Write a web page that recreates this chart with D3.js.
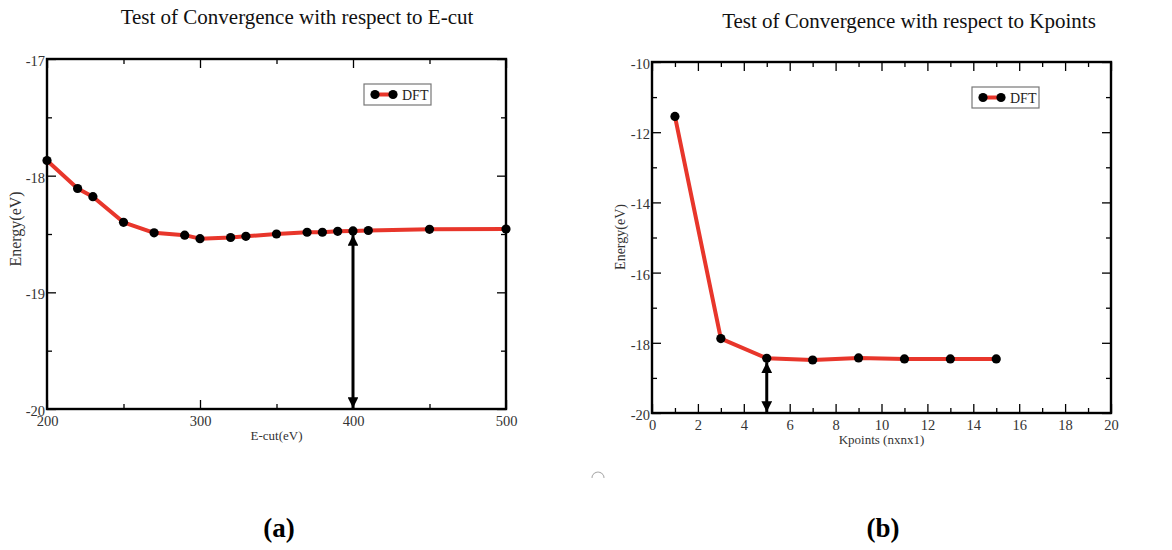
<!DOCTYPE html>
<html>
<head>
<meta charset="utf-8">
<script src="https://cdn.jsdelivr.net/npm/d3@7"></script>
<style>
  body { margin: 0; background: #fff; }
  svg { display: block; font-family: "Liberation Serif", "DejaVu Serif", serif; }
</style>
</head>
<body>
<div id="chart"></div>
<script>
// panel (a): energy vs cut-off energy
var ecutX = [200, 220, 230, 250, 270, 290, 300, 320, 330, 350, 370, 380, 390, 400, 410, 450, 500];
var ecutE = [-17.87, -18.11, -18.18, -18.40, -18.49, -18.51, -18.54, -18.53, -18.52, -18.50,
             -18.485, -18.485, -18.477, -18.474, -18.47, -18.46, -18.457];
var ecutMajorX = [200, 300, 400, 500];
var ecutMinorX = [250, 350, 450];
var ecutMajorY = [-17, -18, -19, -20];
var ecutMinorY = [-17.5, -18.5, -19.5];

// panel (b): energy vs k-point mesh
var kptX = [1, 3, 5, 7, 9, 11, 13, 15];
var kptE = [-11.55, -17.88, -18.44, -18.49, -18.43, -18.46, -18.46, -18.46];
var kptMajorX = [0, 2, 4, 6, 8, 10, 12, 14, 16, 18, 20];
var kptMinorX = [1, 3, 5, 7, 9, 11, 13, 15, 17, 19];
var kptMajorY = [-10, -12, -14, -16, -18, -20];
var kptMinorY = [-11, -13, -15, -17, -19];

var svg = d3.select("#chart").append("svg")
    .attr("width", 1172)
    .attr("height", 550);

var defs = svg.append("defs");
defs.append("marker")
    .attr("id", "head")
    .attr("viewBox", "0 0 10 10")
    .attr("refX", 10).attr("refY", 5)
    .attr("markerWidth", 4.2).attr("markerHeight", 3.6)
    .attr("markerUnits", "strokeWidth")
    .attr("orient", "auto-start-reverse")
    .append("path")
    .attr("d", "M0,0L10,5L0,10Z")
    .attr("fill", "#000");

// plain hyphen minus, as in the original figure
var fmt = function (d) { return String(d); };

function panel(cfg) {
    var g = svg.append("g");
    var left = cfg.box[0], top = cfg.box[1], right = cfg.box[2], bottom = cfg.box[3];

    var x = d3.scaleLinear().domain(cfg.xDomain).range([left, right]);
    var y = d3.scaleLinear().domain(cfg.yDomain).range([bottom, top]);

    // major + minor ticks on all four sides, pointing inward
    function ticks(axisFn, scale, values, size, labels, pos) {
        var a = axisFn(scale).tickValues(values).tickSize(size).tickPadding(3)
            .tickFormat(labels ? fmt : "");
        var ag = g.append("g").attr("transform", pos).call(a)
            .attr("font-family", null).attr("font-size", null);
        ag.select(".domain").remove();
        ag.selectAll(".tick line").attr("stroke", "#000").attr("stroke-width", 1.3);
        ag.selectAll(".tick text").style("font-size", "14.5px").attr("fill", "#333");
        return ag;
    }
    ticks(d3.axisBottom, x, cfg.majorX, -9, true, "translate(0," + bottom + ")")
        .selectAll("text").attr("y", 7);
    ticks(d3.axisBottom, x, cfg.minorX, -5, false, "translate(0," + bottom + ")");
    ticks(d3.axisTop, x, cfg.majorX, -9, false, "translate(0," + top + ")");
    ticks(d3.axisTop, x, cfg.minorX, -5, false, "translate(0," + top + ")");
    ticks(d3.axisLeft, y, cfg.majorY, -9, true, "translate(" + left + ",0)")
        .selectAll("text").attr("x", -2).attr("dy", "0.45em");
    ticks(d3.axisLeft, y, cfg.minorY, -5, false, "translate(" + left + ",0)");
    ticks(d3.axisRight, y, cfg.majorY, -9, false, "translate(" + right + ",0)");
    ticks(d3.axisRight, y, cfg.minorY, -5, false, "translate(" + right + ",0)");

    g.append("rect")
        .attr("x", left).attr("y", top)
        .attr("width", right - left).attr("height", bottom - top)
        .attr("fill", "none").attr("stroke", "#000").attr("stroke-width", 2.4);

    var pts = cfg.xs.map(function (d, i) { return [d, cfg.ys[i]]; });

    g.append("path")
        .datum(pts)
        .attr("fill", "none")
        .attr("stroke", "#e8362b")
        .attr("stroke-width", 4)
        .attr("stroke-linejoin", "round")
        .attr("d", d3.line().x(function (d) { return x(d[0]); }).y(function (d) { return y(d[1]); }));

    g.append("g").selectAll("circle")
        .data(pts).enter()
        .append("circle")
        .attr("cx", function (d) { return x(d[0]); })
        .attr("cy", function (d) { return y(d[1]); })
        .attr("r", 4.6)
        .attr("fill", "#000");

    // double-headed arrow marking the converged value
    var ai = cfg.xs.indexOf(cfg.arrowAt);
    g.append("line")
        .attr("x1", x(cfg.arrowAt)).attr("x2", x(cfg.arrowAt))
        .attr("y1", y(cfg.ys[ai]) + 4).attr("y2", bottom - 1)
        .attr("stroke", "#000").attr("stroke-width", 3)
        .attr("marker-start", "url(#head)")
        .attr("marker-end", "url(#head)");

    // legend
    var lg = g.append("g").attr("transform", "translate(" + cfg.legend[0] + "," + cfg.legend[1] + ")");
    lg.append("rect")
        .attr("width", 67).attr("height", 21)
        .attr("fill", "#fff").attr("stroke", "#777").attr("stroke-width", 1.2);
    lg.append("line")
        .attr("x1", 11).attr("x2", 29).attr("y1", 10.5).attr("y2", 10.5)
        .attr("stroke", "#e8362b").attr("stroke-width", 4);
    lg.selectAll("circle").data([11, 29]).enter()
        .append("circle")
        .attr("cx", function (d) { return d; }).attr("cy", 10.5).attr("r", 4.6).attr("fill", "#000");
    lg.append("text")
        .attr("x", 38).attr("y", 15.5)
        .attr("font-size", 14).attr("fill", "#222")
        .text("DFT");

    // titles and labels
    g.append("text")
        .attr("x", cfg.title[0]).attr("y", cfg.title[1])
        .attr("text-anchor", "middle").attr("font-size", 21).attr("fill", "#111")
        .text(cfg.titleText);
    g.append("text")
        .attr("x", (left + right) / 2).attr("y", bottom + 31)
        .attr("text-anchor", "middle").attr("font-size", 13).attr("fill", "#333")
        .text(cfg.xLabel);
    g.append("text")
        .attr("transform", "translate(" + cfg.yLabel[0] + "," + cfg.yLabel[1] + ") rotate(-90)")
        .attr("text-anchor", "middle").attr("font-size", cfg.yLabel[2]).attr("fill", "#333")
        .text("Energy(eV)");
    g.append("text")
        .attr("x", cfg.tag[0]).attr("y", cfg.tag[1])
        .attr("text-anchor", "middle").attr("font-size", 27).attr("font-weight", "bold").attr("fill", "#000")
        .text(cfg.tagText);
}

panel({
    box: [47, 59, 506, 409],
    xDomain: [200, 500], yDomain: [-20, -17],
    majorX: ecutMajorX, minorX: ecutMinorX, majorY: ecutMajorY, minorY: ecutMinorY,
    xs: ecutX, ys: ecutE, arrowAt: 400,
    legend: [364, 84],
    title: [297, 24], titleText: "Test of Convergence with respect to E-cut",
    xLabel: "E-cut(eV)", yLabel: [21, 229, 16],
    tag: [279, 537], tagText: "(a)"
});

panel({
    box: [652, 62, 1111, 413],
    xDomain: [0, 20], yDomain: [-20, -10],
    majorX: kptMajorX, minorX: kptMinorX, majorY: kptMajorY, minorY: kptMinorY,
    xs: kptX, ys: kptE, arrowAt: 5,
    legend: [972, 87],
    title: [909, 28], titleText: "Test of Convergence with respect to Kpoints",
    xLabel: "Kpoints (nxnx1)", yLabel: [625, 237, 14],
    tag: [883, 537], tagText: "(b)"
});

// small clipped glyph between the panels
svg.append("path")
    .attr("d", d3.arc()({ innerRadius: 5.5, outerRadius: 6.5, startAngle: -Math.PI / 2, endAngle: Math.PI / 2 }))
    .attr("transform", "translate(598,478)")
    .attr("fill", "#aaa");
</script>
</body>
</html>
